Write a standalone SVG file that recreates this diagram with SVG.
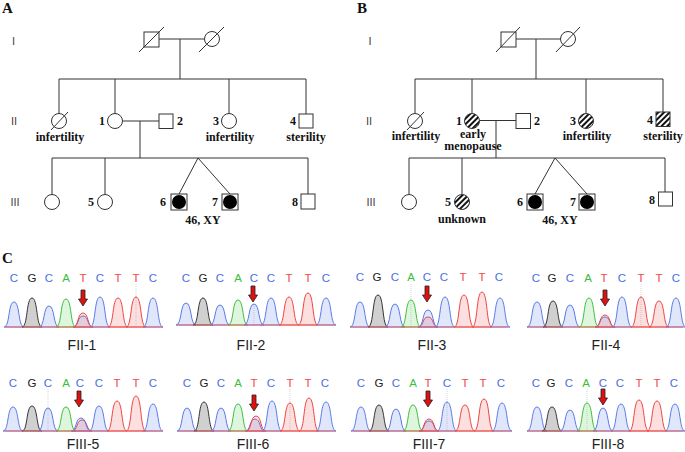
<svg xmlns="http://www.w3.org/2000/svg" xmlns:xlink="http://www.w3.org/1999/xlink" width="685" height="452" viewBox="0 0 685 452">
<defs>
<style>
.ln{stroke:#333;stroke-width:1;fill:none}
.sym{fill:#fff;stroke:#333;stroke-width:1}
.hat{fill:url(#hatch);stroke:#333;stroke-width:1}
.blk{fill:#000}
.pt{font-family:"Liberation Serif","Times New Roman",serif;font-weight:bold;font-size:12px;fill:#111;text-anchor:middle}
.gen{font-family:"Liberation Sans",Arial,sans-serif;font-size:11px;fill:#444;text-anchor:middle}
.pl{font-family:"Liberation Serif","Times New Roman",serif;font-weight:bold;font-size:15px;fill:#111}
.b{font-family:"Liberation Sans",Arial,sans-serif;font-size:11.5px;text-anchor:middle}
.bC{fill:#4a6fe3}.bG{fill:#222}.bA{fill:#3cbe3c}.bT{fill:#f04a4a}
.pC{fill:#5a7ae6;fill-opacity:.18;stroke:#5a7ae6;stroke-width:1}
.pG{fill:#444;fill-opacity:.25;stroke:#333;stroke-width:1}
.pA{fill:#44cc44;fill-opacity:.18;stroke:#3cbe3c;stroke-width:1}
.pT{fill:#ee5555;fill-opacity:.18;stroke:#ee4444;stroke-width:1}
.base{stroke:#e66;stroke-width:1}
.gd{stroke:#bbb;stroke-width:.6;stroke-dasharray:1,1}
.lab{font-family:"Liberation Sans",Arial,sans-serif;font-size:14px;text-anchor:middle;fill:#222}
.arr{fill:#e01010;stroke:#222;stroke-width:.8}
</style>
<pattern id="hatch" width="4" height="4" patternUnits="userSpaceOnUse" patternTransform="rotate(45)"><rect width="4" height="4" fill="#fff"/><rect width="2" height="4" fill="#111"/></pattern>
<path id="arr" class="arr" d="M-2,0h4v9h2.5l-4.5,7-4.5-7h2.5z"/>
</defs>
<rect width="685" height="452" fill="#fff"/>

<!-- Panel letters -->
<text class="pl" x="2" y="13">A</text>
<text class="pl" x="357" y="13">B</text>
<text class="pl" x="2" y="263">C</text>

<!-- Generation labels -->
<g id="genA">
<text class="gen" x="13.5" y="45">I</text>
<text class="gen" x="14" y="125">II</text>
<text class="gen" x="15" y="206">III</text>
</g>
<g id="genB">
<text class="gen" x="370" y="45">I</text>
<text class="gen" x="369" y="125">II</text>
<text class="gen" x="371" y="206">III</text>
</g>

<!-- Pedigree A connectors -->
<g id="connA" class="ln">
<path d="M159,39H204.5M180,39V79M59,79H306M59,79V113.5M115,79V113.5M229,79V113.5M306,79V114"/>
<path d="M122.5,121H159M140,121V158M52,158H308M52,158V194.5M105,158V194.5M308,158V194"/>
<path d="M198,158L179,194M198,158L230,194"/>
</g>

<!-- Pedigree A nodes -->
<g id="A-I-1"><rect class="sym" x="144" y="32" width="15" height="15"/><path class="ln" d="M139,52L164,27"/></g>
<g id="A-I-2"><circle class="sym" cx="212" cy="39" r="7.5"/><path class="ln" d="M199,52L224,27"/></g>
<g id="A-II-0"><circle class="sym" cx="59" cy="121" r="7.5"/><path class="ln" d="M51,130L68,112"/><text class="pt" x="60" y="141">infertility</text></g>
<g id="A-II-1"><circle class="sym" cx="115" cy="121" r="7.5"/><text class="pt" x="102" y="125">1</text></g>
<g id="A-II-2"><rect class="sym" x="159" y="114" width="14" height="14.5"/><text class="pt" x="180" y="125">2</text></g>
<g id="A-II-3"><circle class="sym" cx="229" cy="121" r="7.5"/><text class="pt" x="216" y="125">3</text><text class="pt" x="230" y="141">infertility</text></g>
<g id="A-II-4"><rect class="sym" x="299" y="114" width="14" height="14"/><text class="pt" x="293" y="125">4</text><text class="pt" x="306" y="141">sterility</text></g>
<g id="A-III-0"><circle class="sym" cx="52" cy="202" r="7.5"/></g>
<g id="A-III-5"><circle class="sym" cx="105" cy="202" r="7.5"/><text class="pt" x="91" y="206">5</text></g>
<g id="A-III-6"><rect class="sym" x="171" y="194" width="16" height="16"/><circle class="blk" cx="179" cy="202" r="7"/><text class="pt" x="163" y="206">6</text></g>
<g id="A-III-7"><rect class="sym" x="222" y="194" width="16" height="16"/><circle class="blk" cx="230" cy="202" r="7"/><text class="pt" x="215" y="206">7</text></g>
<g id="A-III-8"><rect class="sym" x="301" y="194" width="14" height="15"/><text class="pt" x="295" y="206">8</text></g>
<text class="pt" x="203" y="224">46, XY</text>

<!-- Pedigree B connectors -->
<g id="connB" class="ln">
<path d="M515.5,39H560.5M536,39V79M415,79H663M415,79V113.5M472,79V113.5M586,79V113.5M663,79V112"/>
<path d="M479.5,120.5H516M496,120.5V158M409,158H665M409,158V194.5M462,158V194.5M665,158V192"/>
<path d="M555,158L535,194M555,158L587,194"/>
</g>

<!-- Pedigree B nodes -->
<g id="B-I-1"><rect class="sym" x="501" y="32" width="15" height="15"/><path class="ln" d="M496,52L520,27"/></g>
<g id="B-I-2"><circle class="sym" cx="568" cy="39" r="7.5"/><path class="ln" d="M556,52L580,27"/></g>
<g id="B-II-0"><circle class="sym" cx="415" cy="121" r="7.5"/><path class="ln" d="M407,130L424,112"/><text class="pt" x="416" y="140">infertility</text></g>
<g id="B-II-1"><circle class="hat" cx="472" cy="121" r="7.5"/><text class="pt" x="459" y="125">1</text><text class="pt" x="473" y="138">early</text><text class="pt" x="473" y="149.5">menopause</text></g>
<g id="B-II-2"><rect class="sym" x="516" y="113.5" width="14.5" height="15"/><text class="pt" x="537" y="125">2</text></g>
<g id="B-II-3"><circle class="hat" cx="586" cy="121" r="7.5"/><text class="pt" x="573" y="125">3</text><text class="pt" x="587" y="140">infertility</text></g>
<g id="B-II-4"><rect class="hat" x="656" y="112" width="14" height="14.5"/><text class="pt" x="650" y="124">4</text><text class="pt" x="663" y="140">sterility</text></g>
<g id="B-III-0"><circle class="sym" cx="409" cy="202" r="7.5"/></g>
<g id="B-III-5"><circle class="hat" cx="462" cy="202" r="7.5"/><text class="pt" x="448" y="206">5</text><text class="pt" x="462" y="223">unknown</text></g>
<g id="B-III-6"><rect class="sym" x="527" y="194" width="16" height="16"/><circle class="blk" cx="535" cy="202" r="7"/><text class="pt" x="520" y="206">6</text></g>
<g id="B-III-7"><rect class="sym" x="579" y="194" width="16" height="16"/><circle class="blk" cx="587" cy="202" r="7"/><text class="pt" x="573" y="206">7</text></g>
<g id="B-III-8"><rect class="sym" x="658.5" y="192" width="14" height="14"/><text class="pt" x="652" y="204">8</text></g>
<text class="pt" x="560" y="224">46, XY</text>

<!-- Chromatogram FII-1 -->
<g id="FII-1">
<text class="b bC" x="14" y="282">C</text><text class="b bG" x="32" y="282">G</text><text class="b bC" x="49" y="282">C</text><text class="b bA" x="66" y="282">A</text><text class="b bT" x="83" y="282">T</text><text class="b bC" x="100" y="282">C</text><text class="b bT" x="118" y="282">T</text><text class="b bT" x="136" y="282">T</text><text class="b bC" x="153" y="282">C</text>
<path class="gd" d="M136,284V327"/>
<path class="pC" d="M4,327c6,0 4,-25 10,-25s4,25 10,25z"/>
<path class="pG" d="M22,327c6,0 4,-29 10,-29s4,29 10,29z"/>
<path class="pC" d="M39,327c6,0 4,-21 10,-21s4,21 10,21z"/>
<path class="pA" d="M56,327c6,0 4,-28 10,-28s4,28 10,28z"/>
<path class="pC" d="M73,327c6,0 4,-11 10,-11s4,11 10,11z"/>
<path class="pT" d="M73,327c6,0 4,-14 10,-14s4,14 10,14z"/>
<path class="pC" d="M90,327c6,0 4,-30 10,-30s4,30 10,30z"/>
<path class="pT" d="M108,327c6,0 4,-29 10,-29s4,29 10,29z"/>
<path class="pT" d="M126,327c6,0 4,-30 10,-30s4,30 10,30z"/>
<path class="pC" d="M143,327c6,0 4,-29 10,-29s4,29 10,29z"/>
<path class="base" d="M5,327H163"/>
<use href="#arr" x="83" y="290"/>
<text class="lab" x="82" y="350">FII-1</text>
</g>

<!-- Chromatogram FII-2 -->
<g id="FII-2">
<text class="b bC" x="186" y="282">C</text><text class="b bG" x="203" y="282">G</text><text class="b bC" x="220" y="282">C</text><text class="b bA" x="238" y="282">A</text><text class="b bC" x="254" y="282">C</text><text class="b bC" x="271" y="282">C</text><text class="b bT" x="289" y="282">T</text><text class="b bT" x="308" y="282">T</text><text class="b bC" x="326" y="282">C</text>
<path class="gd" d="M254,304V325"/>
<path class="pC" d="M176,325c6,0 4,-22 10,-22s4,22 10,22z"/>
<path class="pG" d="M193,325c6,0 4,-27 10,-27s4,27 10,27z"/>
<path class="pC" d="M210,325c6,0 4,-20 10,-20s4,20 10,20z"/>
<path class="pA" d="M228,325c6,0 4,-25 10,-25s4,25 10,25z"/>
<path class="pC" d="M244,325c6,0 4,-21 10,-21s4,21 10,21z"/>
<path class="pC" d="M261,325c6,0 4,-27 10,-27s4,27 10,27z"/>
<path class="pT" d="M279,325c6,0 4,-28 10,-28s4,28 10,28z"/>
<path class="pT" d="M298,325c6,0 4,-32 10,-32s4,32 10,32z"/>
<path class="pC" d="M316,325c6,0 4,-27 10,-27s4,27 10,27z"/>
<path class="base" d="M177,325H335"/>
<use href="#arr" x="253" y="286"/>
<text class="lab" x="251" y="350">FII-2</text>
</g>

<!-- Chromatogram FII-3 -->
<g id="FII-3">
<text class="b bC" x="360" y="281">C</text><text class="b bG" x="377" y="281">G</text><text class="b bC" x="395" y="281">C</text><text class="b bA" x="411" y="281">A</text><text class="b bC" x="427" y="281">C</text><text class="b bC" x="444" y="281">C</text><text class="b bT" x="463" y="281">T</text><text class="b bT" x="482" y="281">T</text><text class="b bC" x="499" y="281">C</text>
<path class="gd" d="M411,284V327"/>
<path class="pC" d="M350,327c6,0 4,-25 10,-25s4,25 10,25z"/>
<path class="pG" d="M368,327c6,0 4,-32 10,-32s4,32 10,32z"/>
<path class="pC" d="M385,327c6,0 4,-23 10,-23s4,23 10,23z"/>
<path class="pA" d="M401,327c6,0 4,-27 10,-27s4,27 10,27z"/>
<path class="pT" d="M418,327c6,0 4,-10 10,-10s4,10 10,10z"/>
<path class="pC" d="M418,327c6,0 4,-17 10,-17s4,17 10,17z"/>
<path class="pC" d="M435,327c6,0 4,-30 10,-30s4,30 10,30z"/>
<path class="pT" d="M454,327c6,0 4,-32 10,-32s4,32 10,32z"/>
<path class="pT" d="M472,327c6,0 4,-35 10,-35s4,35 10,35z"/>
<path class="pC" d="M490,327c6,0 4,-29 10,-29s4,29 10,29z"/>
<path class="base" d="M350,327H508"/>
<use href="#arr" x="427" y="286"/>
<text class="lab" x="432" y="350">FII-3</text>
</g>

<!-- Chromatogram FII-4 -->
<g id="FII-4">
<text class="b bC" x="536" y="282">C</text><text class="b bG" x="552" y="282">G</text><text class="b bC" x="570" y="282">C</text><text class="b bA" x="588" y="282">A</text><text class="b bT" x="604" y="282">T</text><text class="b bC" x="622" y="282">C</text><text class="b bT" x="641" y="282">T</text><text class="b bT" x="659" y="282">T</text><text class="b bC" x="676" y="282">C</text>
<path class="gd" d="M641,284V327"/>
<path class="pC" d="M527,327c6,0 4,-25 10,-25s4,25 10,25z"/>
<path class="pG" d="M543,327c6,0 4,-26 10,-26s4,26 10,26z"/>
<path class="pC" d="M560,327c6,0 4,-22 10,-22s4,22 10,22z"/>
<path class="pA" d="M579,327c6,0 4,-29 10,-29s4,29 10,29z"/>
<path class="pC" d="M595,327c6,0 4,-10 10,-10s4,10 10,10z"/>
<path class="pT" d="M595,327c6,0 4,-12 10,-12s4,12 10,12z"/>
<path class="pC" d="M612,327c6,0 4,-30 10,-30s4,30 10,30z"/>
<path class="pT" d="M631,327c6,0 4,-30 10,-30s4,30 10,30z"/>
<path class="pT" d="M649,327c6,0 4,-26 10,-26s4,26 10,26z"/>
<path class="pC" d="M666,327c6,0 4,-29 10,-29s4,29 10,29z"/>
<path class="base" d="M527,327H683"/>
<use href="#arr" x="605" y="290"/>
<text class="lab" x="606" y="350">FII-4</text>
</g>

<!-- Chromatogram FIII-5 -->
<g id="FIII-5">
<text class="b bC" x="13" y="387">C</text><text class="b bG" x="32" y="387">G</text><text class="b bC" x="48" y="387">C</text><text class="b bA" x="66" y="387">A</text><text class="b bC" x="80" y="387">C</text><text class="b bC" x="99" y="387">C</text><text class="b bT" x="117" y="387">T</text><text class="b bT" x="136" y="387">T</text><text class="b bC" x="153" y="387">C</text>
<path class="gd" d="M48,389V431"/>
<path class="pC" d="M3,431c6,0 4,-24 10,-24s4,24 10,24z"/>
<path class="pG" d="M22,431c6,0 4,-25 10,-25s4,25 10,25z"/>
<path class="pC" d="M38,431c6,0 4,-23 10,-23s4,23 10,23z"/>
<path class="pA" d="M56,431c6,0 4,-24 10,-24s4,24 10,24z"/>
<path class="pT" d="M72,431c6,0 4,-11 10,-11s4,11 10,11z"/>
<path class="pC" d="M71,431c6,0 4,-13 10,-13s4,13 10,13z"/>
<path class="pC" d="M89,431c6,0 4,-25 10,-25s4,25 10,25z"/>
<path class="pT" d="M107,431c6,0 4,-30 10,-30s4,30 10,30z"/>
<path class="pT" d="M126,431c6,0 4,-35 10,-35s4,35 10,35z"/>
<path class="pC" d="M143,431c6,0 4,-27 10,-27s4,27 10,27z"/>
<path class="base" d="M5,431H163"/>
<use href="#arr" x="79" y="391"/>
<text class="lab" x="83" y="449">FIII-5</text>
</g>

<!-- Chromatogram FIII-6 -->
<g id="FIII-6">
<text class="b bC" x="187" y="387">C</text><text class="b bG" x="204" y="387">G</text><text class="b bC" x="221" y="387">C</text><text class="b bA" x="238" y="387">A</text><text class="b bT" x="254" y="387">T</text><text class="b bC" x="271" y="387">C</text><text class="b bT" x="290" y="387">T</text><text class="b bT" x="308" y="387">T</text><text class="b bC" x="325" y="387">C</text>
<path class="gd" d="M290,389V431"/>
<path class="pC" d="M177,431c6,0 4,-23 10,-23s4,23 10,23z"/>
<path class="pG" d="M194,431c6,0 4,-29 10,-29s4,29 10,29z"/>
<path class="pC" d="M211,431c6,0 4,-23 10,-23s4,23 10,23z"/>
<path class="pA" d="M228,431c6,0 4,-27 10,-27s4,27 10,27z"/>
<path class="pC" d="M245,431c6,0 4,-12 10,-12s4,12 10,12z"/>
<path class="pT" d="M246,431c6,0 4,-15 10,-15s4,15 10,15z"/>
<path class="pC" d="M262,431c6,0 4,-30 10,-30s4,30 10,30z"/>
<path class="pT" d="M280,431c6,0 4,-28 10,-28s4,28 10,28z"/>
<path class="pT" d="M299,431c6,0 4,-33 10,-33s4,33 10,33z"/>
<path class="pC" d="M316,431c6,0 4,-29 10,-29s4,29 10,29z"/>
<path class="base" d="M178,431H335"/>
<use href="#arr" x="254" y="395"/>
<text class="lab" x="253" y="449">FIII-6</text>
</g>

<!-- Chromatogram FIII-7 -->
<g id="FIII-7">
<text class="b bC" x="361" y="387">C</text><text class="b bG" x="379" y="387">G</text><text class="b bC" x="396" y="387">C</text><text class="b bA" x="413" y="387">A</text><text class="b bT" x="428" y="387">T</text><text class="b bC" x="447" y="387">C</text><text class="b bT" x="465" y="387">T</text><text class="b bT" x="483" y="387">T</text><text class="b bC" x="501" y="387">C</text>
<path class="gd" d="M447,389V431"/>
<path class="pC" d="M351,431c6,0 4,-24 10,-24s4,24 10,24z"/>
<path class="pG" d="M369,431c6,0 4,-26 10,-26s4,26 10,26z"/>
<path class="pC" d="M386,431c6,0 4,-22 10,-22s4,22 10,22z"/>
<path class="pA" d="M403,431c6,0 4,-26 10,-26s4,26 10,26z"/>
<path class="pC" d="M419,431c6,0 4,-10 10,-10s4,10 10,10z"/>
<path class="pT" d="M419,431c6,0 4,-12 10,-12s4,12 10,12z"/>
<path class="pC" d="M437,431c6,0 4,-29 10,-29s4,29 10,29z"/>
<path class="pT" d="M455,431c6,0 4,-26 10,-26s4,26 10,26z"/>
<path class="pT" d="M474,431c6,0 4,-32 10,-32s4,32 10,32z"/>
<path class="pC" d="M492,431c6,0 4,-28 10,-28s4,28 10,28z"/>
<path class="base" d="M353,431H511"/>
<use href="#arr" x="428" y="391"/>
<text class="lab" x="429" y="449">FIII-7</text>
</g>

<!-- Chromatogram FIII-8 -->
<g id="FIII-8">
<text class="b bC" x="536" y="387">C</text><text class="b bG" x="551" y="387">G</text><text class="b bC" x="569" y="387">C</text><text class="b bA" x="586" y="387">A</text><text class="b bC" x="603" y="387">C</text><text class="b bC" x="620" y="387">C</text><text class="b bT" x="639" y="387">T</text><text class="b bT" x="657" y="387">T</text><text class="b bC" x="674" y="387">C</text>
<path class="gd" d="M587,389V431"/>
<path class="pC" d="M527,431c6,0 4,-24 10,-24s4,24 10,24z"/>
<path class="pG" d="M542,431c6,0 4,-24 10,-24s4,24 10,24z"/>
<path class="pC" d="M560,431c6,0 4,-21 10,-21s4,21 10,21z"/>
<path class="pA" d="M577,431c6,0 4,-28 10,-28s4,28 10,28z"/>
<path class="pC" d="M593,431c6,0 4,-23 10,-23s4,23 10,23z"/>
<path class="pC" d="M611,431c6,0 4,-27 10,-27s4,27 10,27z"/>
<path class="pT" d="M629,431c6,0 4,-31 10,-31s4,31 10,31z"/>
<path class="pT" d="M647,431c6,0 4,-30 10,-30s4,30 10,30z"/>
<path class="pC" d="M665,431c6,0 4,-27 10,-27s4,27 10,27z"/>
<path class="base" d="M527,431H683"/>
<use href="#arr" x="603" y="389"/>
<text class="lab" x="608" y="449">FIII-8</text>
</g>
</svg>
